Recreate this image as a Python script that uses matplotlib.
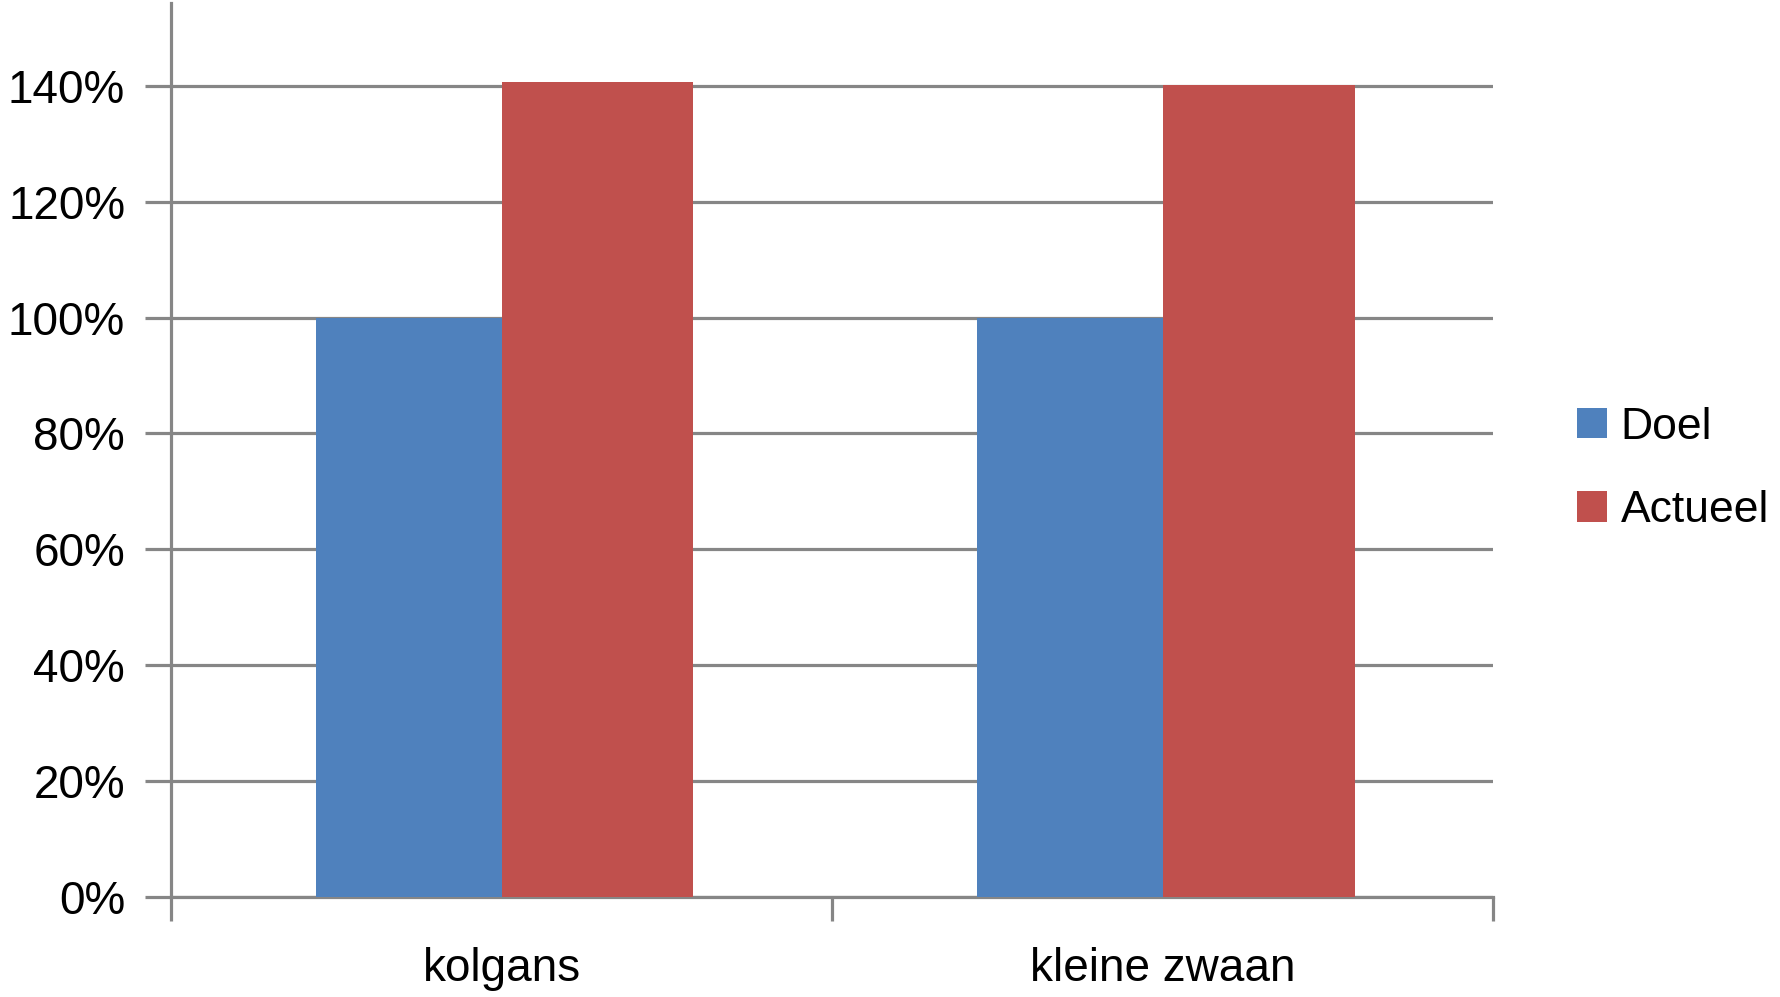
import matplotlib
matplotlib.use("Agg")
import matplotlib.pyplot as plt
from matplotlib.ticker import FixedLocator, FuncFormatter
import numpy as np

categories = ["kolgans", "kleine zwaan"]
doel = [1.00, 1.00]
actueel = [1.406, 1.402]
yticks = [0, 0.2, 0.4, 0.6, 0.8, 1.0, 1.2, 1.4]

plt.rcParams['font.family'] = ['Liberation Sans', 'DejaVu Sans']

BLUE = "#4F81BD"
RED = "#C0504D"
GRID = "#868686"

fig = plt.figure(figsize=(17.8, 9.97), dpi=100)
ax = fig.add_axes([0.0961, 0.1003, 0.839 - 0.0961, 0.997 - 0.1003])

x = np.arange(len(categories))
w1 = 0.2815
w2 = 0.290
b1 = ax.bar(x - w1, doel, width=w1, align='edge', color=BLUE, label="Doel", zorder=3)
b2 = ax.bar(x, actueel, width=w2, align='edge', color=RED, label="Actueel", zorder=3)

ax.set_xlim(-0.5, len(categories) - 0.5)
ax.set_ylim(0, 1.543)

ax.yaxis.set_major_locator(FixedLocator(yticks))
ax.yaxis.set_major_formatter(FuncFormatter(lambda v, p: f"{v*100:.0f}%"))
ax.grid(axis='y', color=GRID, linewidth=2.3, zorder=0)

ax.set_xticks(np.arange(len(categories) + 1) - 0.5)
ax.set_xticklabels([])
ax.set_xticks(x, minor=True)
ax.set_xticklabels(categories, minor=True)
ax.tick_params(axis='x', which='minor', length=0, pad=36, labelsize=33)
ax.tick_params(axis='x', which='major', length=17, width=2.3, color=GRID, direction='out')
ax.tick_params(axis='y', length=19, width=2.3, color=GRID, direction='out', pad=14, labelsize=33)

for s in ['top', 'right']:
    ax.spines[s].set_visible(False)
for s in ['left', 'bottom']:
    ax.spines[s].set_color(GRID)
    ax.spines[s].set_linewidth(2.3)

leg = fig.legend(handles=[b1, b2], labels=["Doel", "Actueel"], loc='upper left',
                 bbox_to_anchor=(0.876, 0.610), frameon=False, fontsize=32,
                 handlelength=0.68, handleheight=0.68, handletextpad=0.3,
                 labelspacing=0.95, borderaxespad=0)

fig.savefig("out.png", dpi=100)
